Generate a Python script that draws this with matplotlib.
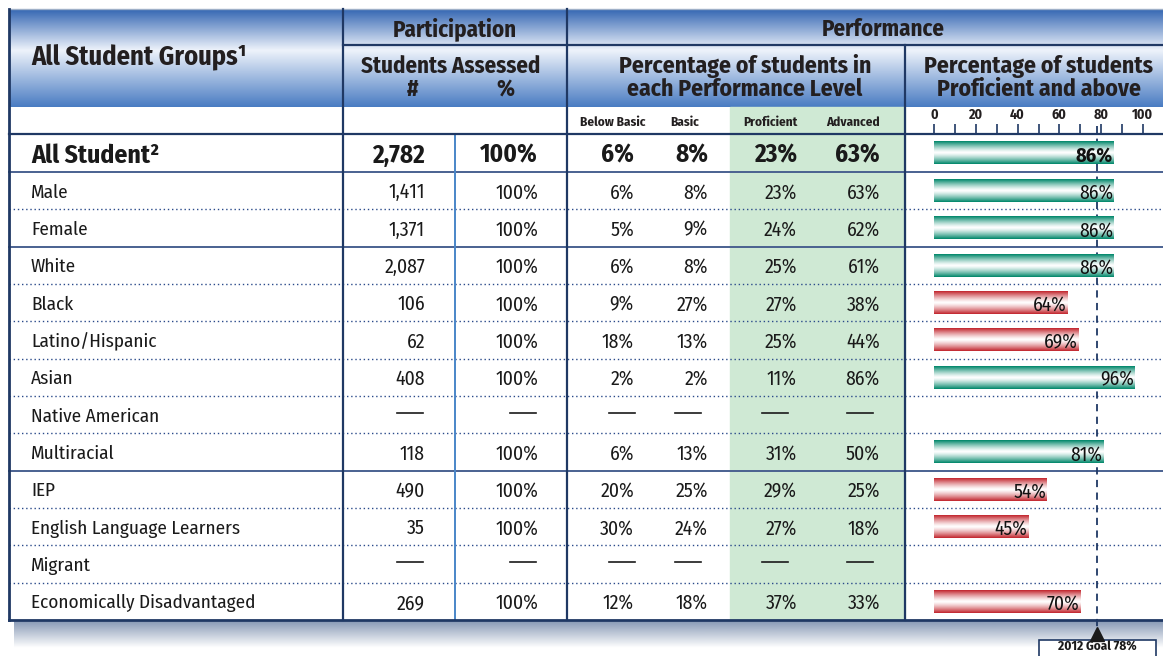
import numpy as np
import matplotlib
matplotlib.use('Agg')
import matplotlib.pyplot as plt
from matplotlib import font_manager
from matplotlib.colors import LinearSegmentedColormap, to_rgb
from matplotlib.patches import Rectangle

# pick a condensed humanist face if one is around, else plain Liberation Sans shrunk a bit
names = {f.name for f in font_manager.fontManager.ttflist}
base, fsk = 'Liberation Sans', 0.9
for cand, k in [('Fira Sans Condensed', 1.0), ('PT Sans Narrow', 1.08),
                ('Roboto Condensed', 1.0), ('Liberation Sans Narrow', 1.05)]:
    if cand in names:
        base, fsk = cand, k
        break
plt.rcParams['font.family'] = [base, 'DejaVu Sans']

# table data (None = not reported)
groups = ["All Student\u00b2", "Male", "Female", "White", "Black", "Latino/Hispanic",
          "Asian", "Native American", "Multiracial", "IEP", "English Language Learners",
          "Migrant", "Economically Disadvantaged"]
assessed_n = [2782, 1411, 1371, 2087, 106, 62, 408, None, 118, 490, 35, None, 269]
assessed_pct = [100, 100, 100, 100, 100, 100, 100, None, 100, 100, 100, None, 100]
below_basic = [6, 6, 5, 6, 9, 18, 2, None, 6, 20, 30, None, 12]
basic = [8, 8, 9, 8, 27, 13, 2, None, 13, 25, 24, None, 18]
proficient = [23, 23, 24, 25, 27, 25, 11, None, 31, 29, 27, None, 37]
advanced = [63, 63, 62, 61, 38, 44, 86, None, 50, 25, 18, None, 33]
prof_above = [86, 86, 86, 86, 64, 69, 96, None, 81, 54, 45, None, 70]
level_names = ["Below Basic", "Basic", "Proficient", "Advanced"]
goal = 78
solid_after = [0, 2, 8]   # rows followed by a solid separator

W, H = 1163, 656
fig = plt.figure(figsize=(W / 100, H / 100), dpi=100)
ax = fig.add_axes([0, 0, 1, 1])
ax.set_xlim(0, W)
ax.set_ylim(H, 0)
ax.axis('off')

navy = '#1f3864'
L, R = 9, W
TOP, MID, HDR, SUB, BOT = 9, 45, 107, 134, 620
first_h = 38
row_h = (BOT - SUB - first_h) / (len(groups) - 1)
edges = [SUB, SUB + first_h] + [SUB + first_h + row_h * (i + 1) for i in range(len(groups) - 1)]
centers = [(edges[i] + edges[i + 1]) / 2 for i in range(len(groups))]

# shadow under the table
sh = np.zeros((40, 1, 4))
sh[..., :3] = to_rgb('#6f84a6')
sh[:, 0, 3] = np.linspace(0.85, 0, 40)
ax.imshow(sh, extent=(14, W, BOT + 28, BOT), aspect='auto', zorder=0)
ax.add_patch(Rectangle((L, TOP), R - L, BOT - TOP, color='white', zorder=0.5))

# header gradient
hcm = LinearSegmentedColormap.from_list('hdr', [(0, '#3567b3'), (0.42, '#eef3fb'), (1, '#4a7cc2')])
ax.imshow(np.linspace(0, 1, 200).reshape(-1, 1), cmap=hcm, extent=(L, R, HDR, TOP),
          aspect='auto', zorder=1)

# green proficient/advanced column
ax.add_patch(Rectangle((730, HDR), 905 - 730, BOT - HDR, color='#cfe9d4', zorder=1))

# grid lines
ax.plot([L, R], [TOP - 0.5, TOP - 0.5], color='#9fb0c8', lw=1, zorder=3)
for x, y0 in [(343, TOP), (567, TOP), (905, MID)]:
    ax.plot([x, x], [y0, BOT], color=navy, lw=1.6, zorder=4)
ax.plot([455, 455], [SUB, BOT], color='#4a86c8', lw=1.4, zorder=4)
ax.plot([343, R], [MID, MID], color=navy, lw=1.6, zorder=4)
ax.plot([L, R], [SUB, SUB], color=navy, lw=1.6, zorder=4)
ax.plot([L, L], [TOP, BOT], color=navy, lw=2, zorder=5)
ax.plot([L, R], [BOT, BOT], color=navy, lw=2, zorder=5)
for i in range(len(groups) - 1):
    y = edges[i + 1]
    if i in solid_after:
        ax.plot([L, R], [y, y], color='#4a6190', lw=1.4, zorder=3)
    else:
        ax.plot([L, R], [y, y], color='#2a4a8a', lw=1, ls=(0, (1, 2)), zorder=3)

# header text
hk = dict(fontweight='bold', color='#231f20', zorder=6)
big = 16.5 * fsk
ax.text(31, 55, "All Student Groups\u00b9", ha='left', va='center_baseline', fontsize=19 * fsk, **hk)
ax.text(455, 27, "Participation", ha='center', va='center_baseline', fontsize=big, **hk)
ax.text(883, 27, "Performance", ha='center', va='center_baseline', fontsize=big, **hk)
ax.text(451, 64, "Students Assessed", ha='center', va='center_baseline', fontsize=big, **hk)
ax.text(413, 87, "#", ha='center', va='center_baseline', fontsize=big, **hk)
ax.text(505, 87, "%", ha='center', va='center_baseline', fontsize=big, **hk)
ax.text(745, 64, "Percentage of students in", ha='center', va='center_baseline', fontsize=17 * fsk, **hk)
ax.text(745, 87, "each Performance Level", ha='center', va='center_baseline', fontsize=17 * fsk, **hk)
ax.text(1039, 64, "Percentage of students", ha='center', va='center_baseline', fontsize=17 * fsk, **hk)
ax.text(1039, 87, "Proficient and above", ha='center', va='center_baseline', fontsize=17 * fsk, **hk)
for name, x in zip(level_names, [613, 685, 770, 853]):
    ax.text(x, 121, name, ha='center', va='center_baseline', fontsize=9.5 * fsk, **hk)

# table body
num_x = 425
pct_x = 538
level_x = [634, 708, 797, 880]
dash_x = [410, 523, 622, 688, 775, 860]
for i, g in enumerate(groups):
    y = centers[i]
    bold = i == 0
    fs = (18.5 if bold else 13.8) * fsk
    fw = 'bold' if bold else 'normal'
    tk = dict(va='center_baseline', fontsize=fs, fontweight=fw, color='#1a1a1a', zorder=6)
    ax.text(31, y, g, ha='left', **tk)
    if assessed_n[i] is None:
        for x in dash_x:
            ax.plot([x - 13, x + 13], [y - 2, y - 2], color='#1a1a1a', lw=1.2, zorder=6)
        continue
    num_fs = (18 if bold else 14.2) * fsk
    tk['fontsize'] = num_fs
    ax.text(num_x, y, f"{assessed_n[i]:,}", ha='right', **tk)
    ax.text(pct_x, y, f"{assessed_pct[i]}%", ha='right', **tk)
    vals = [below_basic[i], basic[i], proficient[i], advanced[i]]
    for x, v in zip(level_x, vals):
        ax.text(x, y, f"{v}%", ha='right', **tk)

# proficient-and-above bars
px0, px100 = 934, 1143
scale = (px100 - px0) / 100
axb = fig.add_axes([905 / W, (H - BOT) / H, (W - 905) / W, (BOT - SUB) / H])
axb.patch.set_visible(False)
xlo, xhi = (905 - px0) / scale, (W - px0) / scale

t = np.linspace(0, 1, 60)
mix = np.abs(2 * t - 1) ** 1.3
for i, v in enumerate(prof_above):
    if v is None:
        continue
    dark = np.array(to_rgb('#00876a' if v >= goal else '#c2252d'))
    grad = (mix[:, None] * dark + (1 - mix[:, None]) * np.ones(3)).reshape(-1, 1, 3)
    bh = 23
    bar = axb.barh(centers[i], v, height=bh, color=dark, zorder=2)[0]
    im = axb.imshow(grad, extent=(0, v, centers[i] + bh / 2, centers[i] - bh / 2),
                    aspect='auto', zorder=3)
    im.set_clip_path(bar)
    axb.text(v - 0.4, centers[i] + 0.5, f"{v}%", ha='right', va='center_baseline',
             fontsize=(14.5 if i == 0 else 14) * fsk, fontweight='bold' if i == 0 else 'normal',
             color='#111111', zorder=5)

axb.plot([goal, goal], [SUB - 8, BOT + 10], ls=(0, (4, 3)), color=navy, lw=1.3,
         clip_on=False, zorder=1)
axb.plot(goal, BOT + 14, marker='^', ms=10, color='#1a1a1a', clip_on=False, zorder=6)
axb.add_patch(Rectangle((goal - 28, 640), 56, 20, facecolor='white', edgecolor=navy,
                        lw=1.2, clip_on=False, zorder=5))
axb.text(goal, 647.5, f"2012 Goal {goal}%", ha='center', va='center', fontsize=9.5 * fsk,
         fontweight='bold', color='#1a1a1a', clip_on=False, zorder=6)

axb.set_xlim(xlo, xhi)
axb.set_ylim(BOT, SUB)
axb.xaxis.tick_top()
axb.set_xticks(range(0, 101, 20))
axb.set_xticks(range(10, 100, 20), minor=True)
axb.tick_params(which='both', direction='out', length=7, width=1.2, color=navy,
                labelsize=10 * fsk, pad=2, labelcolor='#231f20')
for lbl in axb.get_xticklabels():
    lbl.set_fontweight('bold')
axb.set_yticks([])
for s in axb.spines.values():
    s.set_visible(False)

fig.savefig('out.png', dpi=100)
